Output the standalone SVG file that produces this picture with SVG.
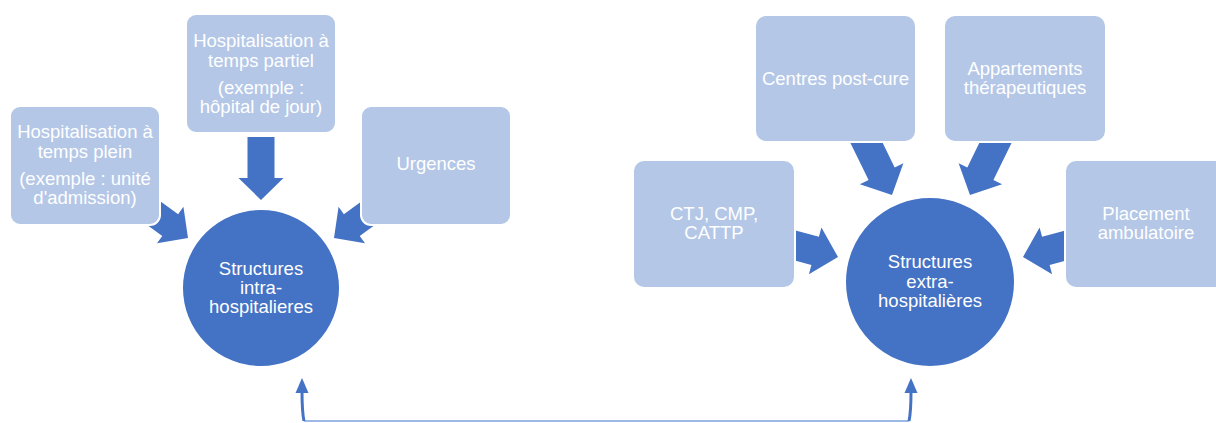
<svg xmlns="http://www.w3.org/2000/svg" xmlns:xlink="http://www.w3.org/1999/xlink" width="1216" height="423" viewBox="0 0 1216 423">
<style>
.box{fill:#B4C7E7;stroke:#FFFFFF;stroke-width:2}
.circ{fill:#4472C4;stroke:#FFFFFF;stroke-width:2}
.arr{fill:#4472C4}
text{font-family:"Liberation Sans",Arial,sans-serif;font-size:18.5px;fill:#FFFFFF;text-anchor:middle}
</style>
<defs>
<path id="arr" d="M0,0 L-22,-22.5 L-22,-13.5 L-63,-13.5 L-63,13.5 L-22,13.5 L-22,22.5 Z"/>
<path id="arrL" d="M0,0 L-22,-22.5 L-22,-13.5 L-75,-13.5 L-75,13.5 L-22,13.5 L-22,22.5 Z"/>
</defs>
<rect width="1216" height="423" fill="#FFFFFF"/>
<g id="connectors">
<use href="#arr" class="arr" transform="translate(261,200) rotate(90)"/>
<use href="#arrL" class="arr" transform="translate(188,238) rotate(36)"/>
<use href="#arrL" class="arr" transform="translate(334,238) rotate(144)"/>
<use href="#arrL" class="arr" transform="translate(892,195) rotate(64) scale(1.075)"/>
<use href="#arrL" class="arr" transform="translate(970,195) rotate(116) scale(1.075)"/>
<use href="#arrL" class="arr" transform="translate(838,257) rotate(15) scale(1.075)"/>
<use href="#arrL" class="arr" transform="translate(1023,257) rotate(165) scale(1.075)"/>
<path d="M304,421 L909,421" fill="none" stroke="#9DB9E5" stroke-width="2"/>
<path d="M302,391 Q302,412 304,421" fill="none" stroke="#4472C4" stroke-width="3"/>
<path d="M911,391 Q911,412 909,421" fill="none" stroke="#4472C4" stroke-width="3"/>
<path d="M302,378 L295.5,393 L308.5,393 Z" fill="#4472C4"/>
<path d="M911,378 L904.5,393 L917.5,393 Z" fill="#4472C4"/>
</g>
<g id="intra">
<circle class="circ" cx="261" cy="288" r="79"/>
<text x="261" y="275">Structures</text>
<text x="261" y="294">intra-</text>
<text x="261" y="313">hospitalieres</text>
</g>
<g id="extra">
<circle class="circ" cx="930" cy="282" r="85"/>
<text x="930" y="268">Structures</text>
<text x="930" y="288">extra-</text>
<text x="930" y="307">hospitalières</text>
</g>
<g id="plein">
<rect class="box" x="10" y="106" width="150" height="119" rx="10"/>
<text x="85" y="138">Hospitalisation à</text>
<text x="85" y="158">temps plein</text>
<text x="85" y="185">(exemple : unité</text>
<text x="85" y="204">d'admission)</text>
</g>
<g id="partiel">
<rect class="box" x="186" y="14" width="150" height="119" rx="10"/>
<text x="261" y="47">Hospitalisation à</text>
<text x="261" y="67">temps partiel</text>
<text x="261" y="94">(exemple :</text>
<text x="261" y="113">hôpital de jour)</text>
</g>
<g id="urgences">
<rect class="box" x="361" y="106" width="150" height="119" rx="10"/>
<text x="436" y="170">Urgences</text>
</g>
<g id="postcure">
<rect class="box" x="755" y="15" width="161" height="127" rx="11"/>
<text x="835.5" y="85">Centres post-cure</text>
</g>
<g id="appartements">
<rect class="box" x="944" y="15" width="162" height="127" rx="11"/>
<text x="1025" y="75">Appartements</text>
<text x="1025" y="94">thérapeutiques</text>
</g>
<g id="ctj">
<rect class="box" x="633" y="160" width="162" height="128" rx="11"/>
<text x="714" y="220">CTJ, CMP,</text>
<text x="714" y="239">CATTP</text>
</g>
<g id="placement">
<rect class="box" x="1065" y="160" width="162" height="128" rx="11"/>
<text x="1146" y="220">Placement</text>
<text x="1146" y="239">ambulatoire</text>
</g>
</svg>
